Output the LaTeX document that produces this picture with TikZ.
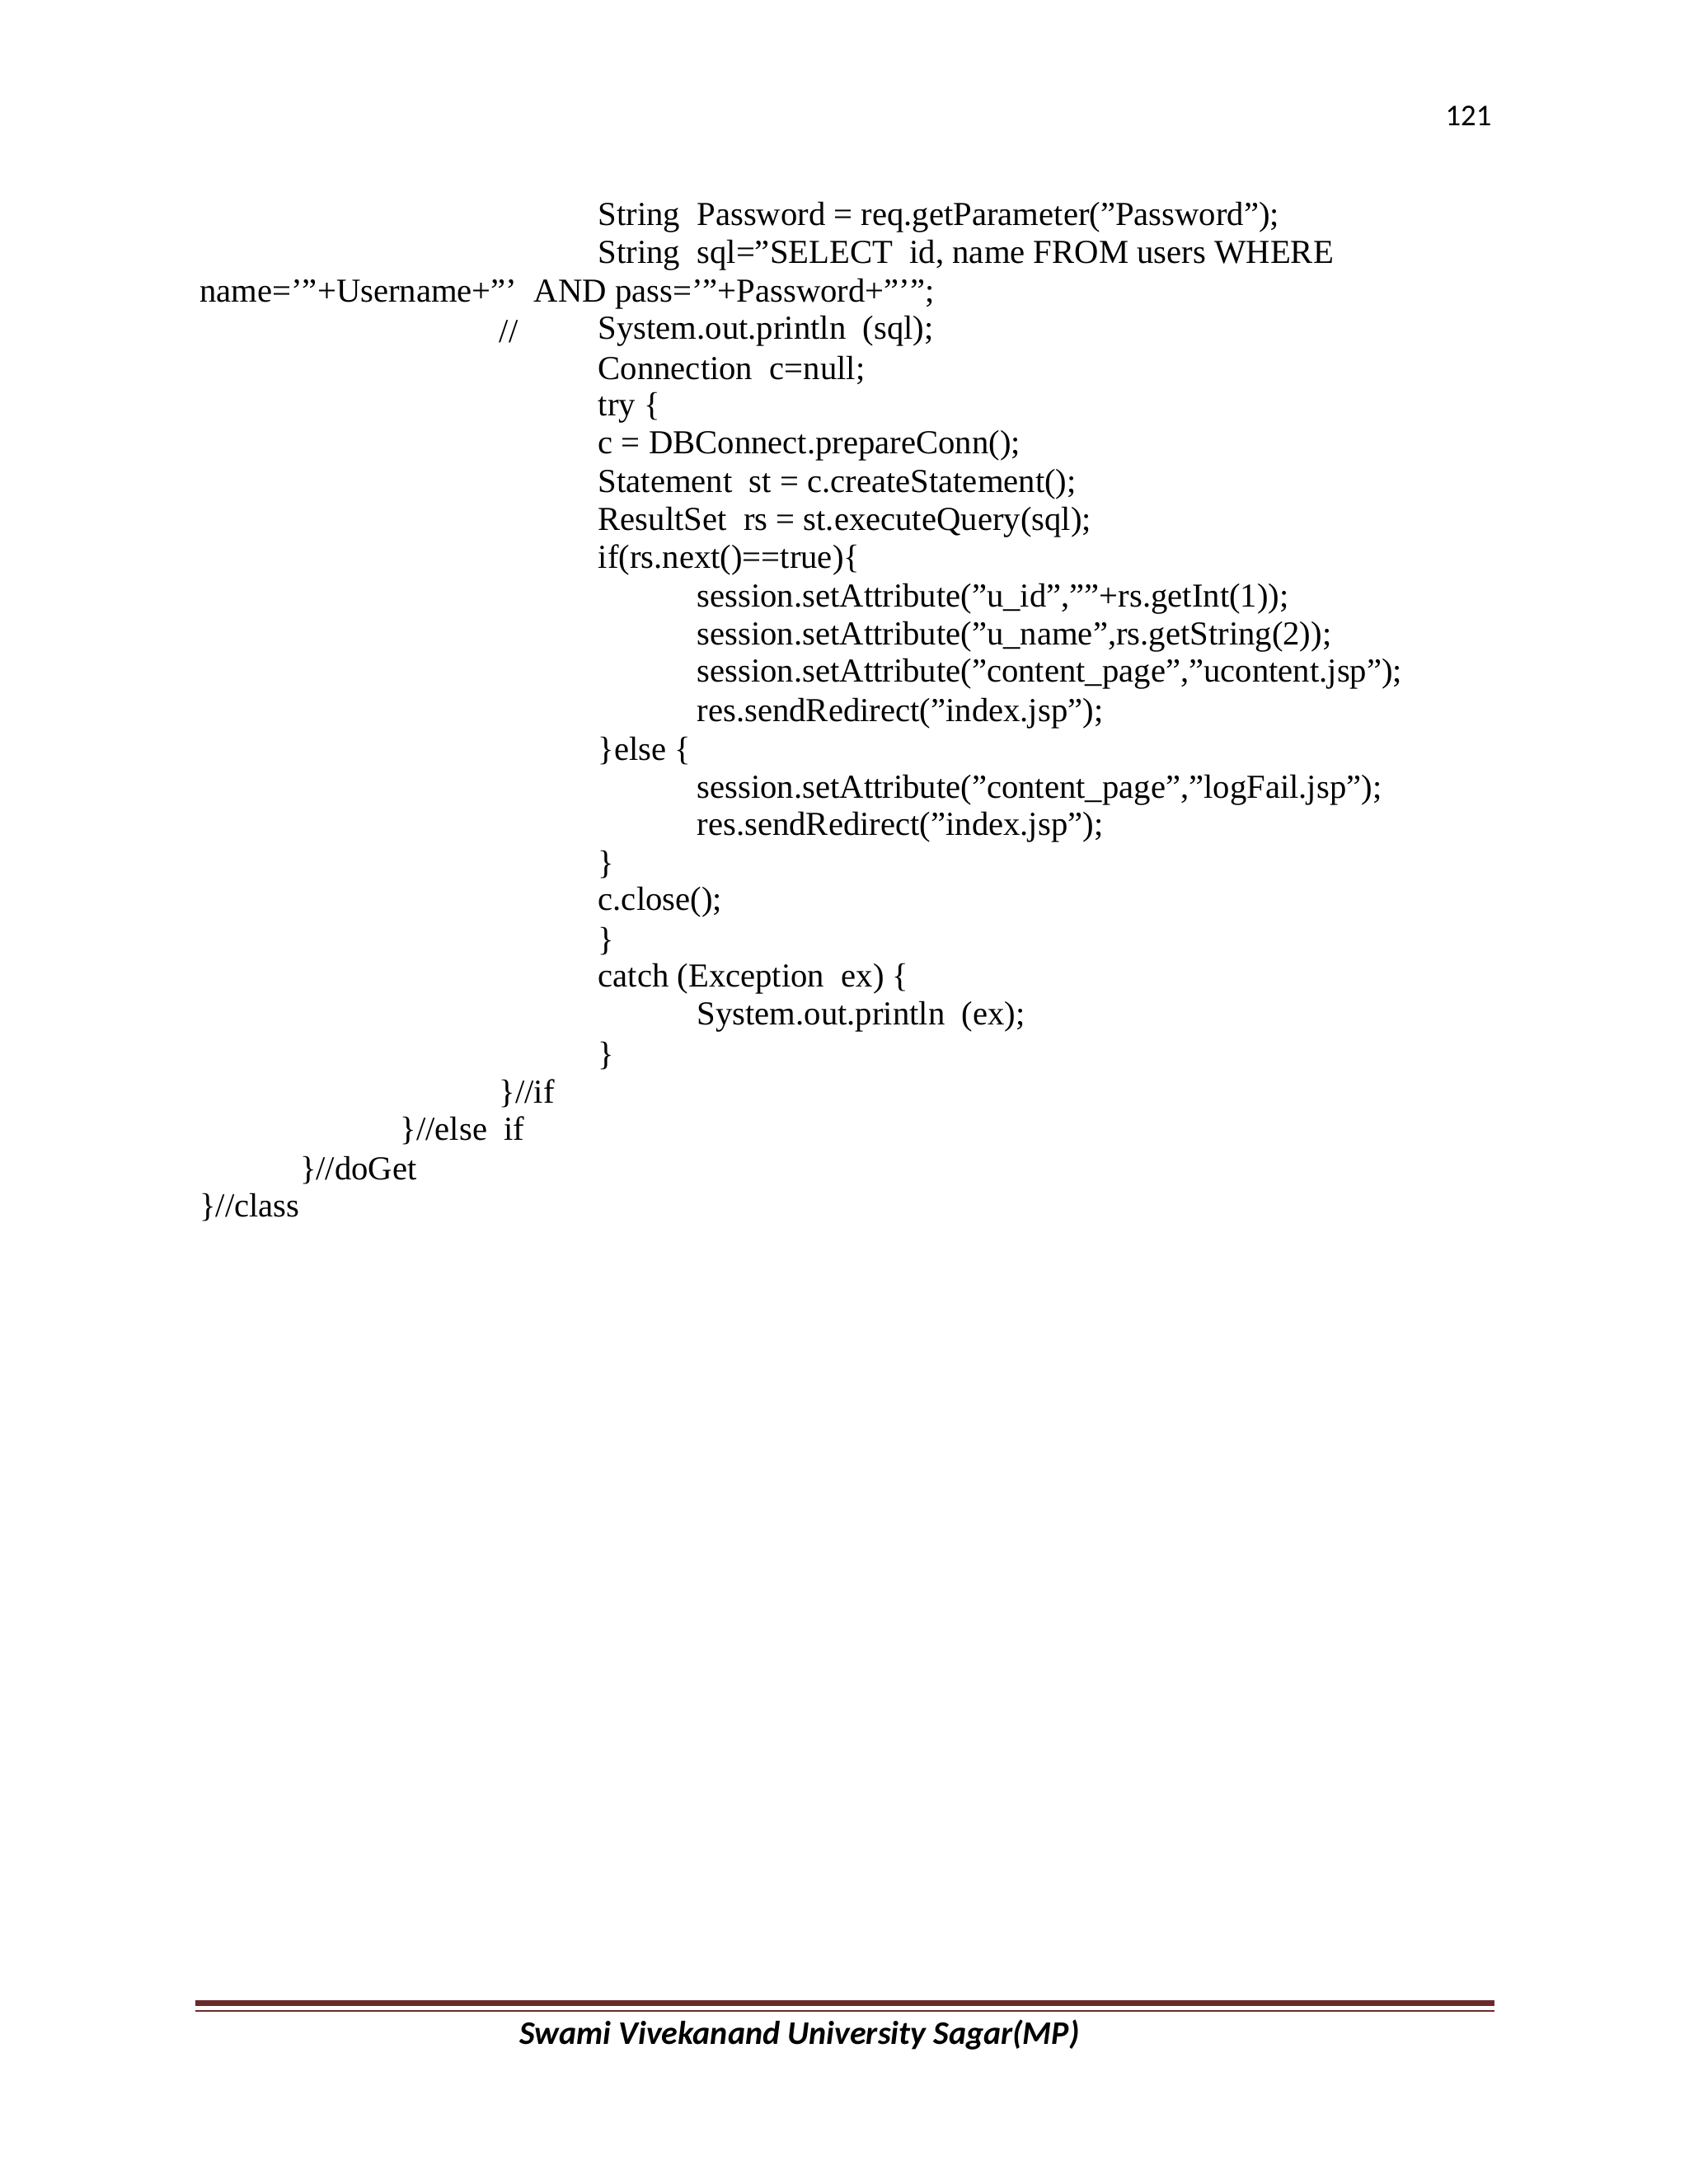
\documentclass[tikz,border=0pt]{standalone}
\usepackage{fontspec}
\setmainfont{Liberation Serif}
\newfontfamily\carl{Carlito}
\definecolor{footred}{HTML}{6B2A2A}
\begin{document}
\begin{tikzpicture}[x=0.5067pt,y=-0.5067pt,
  code/.style={anchor=west,inner sep=0pt,font=\fontsize{12.2}{14}\selectfont}]
\useasboundingbox (0,0) rectangle (1212,1568);
\fill[white] (0,0) rectangle (1212,1568);
\node[anchor=east,inner sep=0pt,font=\carl\fontsize{11}{13}\selectfont] (pg) at (1071,83) {121};
\foreach \n/\x/\y/\t in {
 l1/429/156/{String\ \ Password = req.getParameter("Password");},
 l2/429/183/{String\ \ sql="SELECT\ \ id,\ name\ FROM users WHERE},
 l3/143/211/{name='"+Username+"'\ \ AND pass='"+Password+"'";},
 l4a/358/238/{//},
 l4/429/238/{System.out.println\ \ (sql);},
 l5/429/266/{Connection\ \ c=null;},
 l6/429/293/{try \{},
 l7/429/320/{c = DBConnect.prepareConn();},
 l8/429/348/{Statement\ \ st = c.createStatement();},
 l9/429/375/{ResultSet\ \ rs = st.executeQuery(sql);},
 l10/429/402/{if(rs.next()==true)\{},
 l11/500/430/{session.setAttribute("u\_id",""+rs.getInt(1));},
 l12/500/457/{session.setAttribute("u\_name",rs.getString(2));},
 l13/500/484/{session.setAttribute("content\_page","ucontent.jsp");},
 l14/500/512/{res.sendRedirect("index.jsp");},
 l15/429/539/{\}else \{},
 l16/500/567/{session.setAttribute("content\_page","logFail.jsp");},
 l17/500/594/{res.sendRedirect("index.jsp");},
 l18/429/621/{\}},
 l19/429/648/{c.close();},
 l20/429/676/{\}},
 l21/429/703/{catch (Exception\ \ ex) \{},
 l22/500/730/{System.out.println\ \ (ex);},
 l23/429/758/{\}},
 l24/358/785/{\}//if},
 l25/287/812/{\}//else\ \ if},
 l26/215/840/{\}//doGet},
 l27/143/867/{\}//class}}
 {\node[code] (\n) at (\x,\y) {\t};}
\draw[footred,line width=2.2pt] (140,1438) -- (1073,1438);
\draw[footred,line width=0.6pt] (140,1444) -- (1073,1444);
\node[inner sep=0pt,font=\carl\bfseries\itshape\fontsize{12}{14}\selectfont] (foot) at (574,1461) {Swami Vivekanand University Sagar(MP)};
\end{tikzpicture}
\end{document}
